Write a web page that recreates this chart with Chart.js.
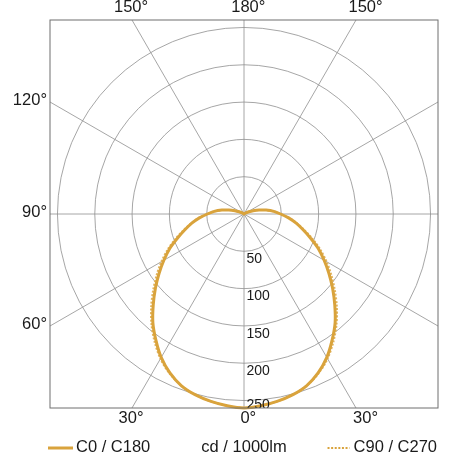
<!DOCTYPE html>
<html>
<head>
<meta charset="utf-8">
<script src="https://cdn.jsdelivr.net/npm/chart.js@4"></script>
<style>
html,body{margin:0;padding:0;background:#fff;}
canvas{display:block;}
</style>
</head>
<body>
<canvas id="c" width="454" height="454"></canvas>
<script>
// ---- data ----
const gammaDeg = [0,5,10,15,20,25,30,35,40,45,50,55,60,65,70,75,80,85,90,95,100,105,110,115,120,125,130,135,140,145,150,155,160,165,170,175,180];
const c0c180  = [260,258,255,251,245,235,222,206,190,172,155,139,124,110,95,82,71,60,49,40,30,21,13,7,3,1,0,0,0,0,0,0,0,0,0,0,0];
const c90c270 = [260,258,255,251,245,236,224,209,193,176,159,143,128,113,98,84,72,61,49,40,30,21,13,7,3,1,0,0,0,0,0,0,0,0,0,0,0];
const angleStep = 30;
const radialTicks = [50,100,150,200,250];
const maxValue = 260;
const seriesLabels = ['C0 / C180','C90 / C270'];
const unitLabel = 'cd / 1000lm';

const GOLD = '#D9A33C';
const GRID = '#8f8f8f';
const FONT = '"Liberation Sans", Arial, Helvetica, sans-serif';

// full circle: index angle a goes from bottom (0) clockwise via left (90) to top (180) and right (270)
const circleLabels = [];
for (let a = 0; a < 360; a += 5) circleLabels.push(a);
function fullCircle(arr){
  return circleLabels.map(a => {
    const g = a <= 180 ? a : 360 - a;
    return arr[gammaDeg.indexOf(g)];
  });
}

const polarFrame = {
  id: 'polarFrame',
  beforeDatasetsDraw(chart){
    const s = chart.scales.r, ctx = chart.ctx;
    const cx = s.xCenter, cy = s.yCenter, R = s.drawingArea;
    ctx.save();
    ctx.beginPath(); ctx.rect(cx - R, cy - R, 2 * R, 2 * R); ctx.clip();
    ctx.strokeStyle = GRID; ctx.lineWidth = 0.8;
    circleLabels.forEach((a, k) => {
      if (a % angleStep) return;
      const ang = s.getIndexAngle(k) - Math.PI / 2;
      ctx.beginPath();
      ctx.moveTo(cx, cy);
      ctx.lineTo(cx + Math.cos(ang) * R * 2, cy + Math.sin(ang) * R * 2);
      ctx.stroke();
    });
    ctx.restore();
  },
  afterDatasetsDraw(chart){
    const s = chart.scales.r, ctx = chart.ctx;
    const cx = s.xCenter, cy = s.yCenter, R = s.drawingArea;
    ctx.save();
    // radial tick labels
    ctx.beginPath(); ctx.rect(cx - R, cy - R, 2 * R, 2 * R); ctx.clip();
    ctx.fillStyle = '#1a1a1a';
    ctx.font = '14px ' + FONT;
    ctx.textAlign = 'left'; ctx.textBaseline = 'middle';
    radialTicks.forEach(v => {
      const d = s.getDistanceFromCenterForValue(v);
      const y = Math.min(cy + d + 8, cy + R - 3);
      ctx.fillText(String(v), cx + 2.5, y);
    });
    ctx.restore();

    // frame
    ctx.save();
    ctx.strokeStyle = '#6f6f6f'; ctx.lineWidth = 1;
    ctx.strokeRect(cx - R, cy - R, 2 * R, 2 * R);
    ctx.restore();
  },
  afterDraw(chart){
    const s = chart.scales.r, ctx = chart.ctx;
    const cx = s.xCenter, cy = s.yCenter, R = s.drawingArea;
    ctx.save();
    ctx.fillStyle = '#1a1a1a';
    ctx.font = '16.5px ' + FONT;
    // angle labels
    circleLabels.forEach((a, k) => {
      if (a % angleStep) return;
      const ang = s.getIndexAngle(k) - Math.PI / 2;
      const dx = Math.cos(ang), dy = Math.sin(ang);
      const t = R / Math.max(Math.abs(dx), Math.abs(dy));
      const px = cx + dx * t, py = cy + dy * t;
      const g = a <= 180 ? a : 360 - a;
      const txt = g + '°';
      if (Math.abs(dy) >= Math.abs(dx) - 1e-6) {
        ctx.textAlign = 'center'; ctx.textBaseline = 'middle';
        const x = px + 4.3 + 0.047 * (px - cx);
        const y = dy < 0 ? cy - R - 12.5 : cy + R + 10;
        ctx.fillText(txt, x, y);
      } else if (dx < 0) {
        ctx.textAlign = 'right'; ctx.textBaseline = 'middle';
        ctx.fillText(txt, cx - R - 3, py - 1.5);
      }
    });
    // legend
    const ly = chart.height - 7;
    const left = cx - R, right = cx + R;
    ctx.textBaseline = 'middle';
    ctx.strokeStyle = GOLD;
    ctx.lineWidth = 3;
    ctx.beginPath(); ctx.moveTo(left - 2, ly + 1); ctx.lineTo(left + 23, ly + 1); ctx.stroke();
    ctx.textAlign = 'left';
    ctx.fillText(seriesLabels[0], left + 26, ly);
    ctx.textAlign = 'center';
    ctx.fillText(unitLabel, cx, ly);
    ctx.textAlign = 'right';
    ctx.fillText(seriesLabels[1], right - 1, ly);
    const tw = ctx.measureText(seriesLabels[1]).width;
    ctx.lineWidth = 2;
    ctx.setLineDash([2, 1.6]);
    ctx.beginPath(); ctx.moveTo(right - 1 - tw - 26, ly + 1); ctx.lineTo(right - 1 - tw - 4, ly + 1); ctx.stroke();
    ctx.restore();
  }
};

new Chart(document.getElementById('c'), {
  type: 'radar',
  data: {
    labels: circleLabels,
    datasets: [
      { label: seriesLabels[0], data: fullCircle(c0c180), borderColor: GOLD, borderWidth: 3, fill: false, pointRadius: 0, pointHoverRadius: 0, tension: 0.3 },
      { label: seriesLabels[1], data: fullCircle(c90c270), borderColor: '#E2B560', borderWidth: 2, borderDash: [2, 1.6], fill: false, pointRadius: 0, pointHoverRadius: 0, tension: 0.3 }
    ]
  },
  options: {
    responsive: false,
    animation: false,
    layout: { padding: { left: 50, right: 16, top: 20, bottom: 46 } },
    plugins: { legend: { display: false }, tooltip: { enabled: false } },
    scales: {
      r: {
        min: 0, max: maxValue,
        startAngle: 180,
        ticks: { display: false, stepSize: 50 },
        pointLabels: { display: false },
        angleLines: { display: false },
        grid: {
          circular: true,
          color: c => (c.tick && radialTicks.includes(c.tick.value)) ? GRID : 'rgba(0,0,0,0)',
          lineWidth: c => (c.tick && radialTicks.includes(c.tick.value)) ? 0.8 : 0
        }
      }
    }
  },
  plugins: [polarFrame]
});
</script>
</body>
</html>
